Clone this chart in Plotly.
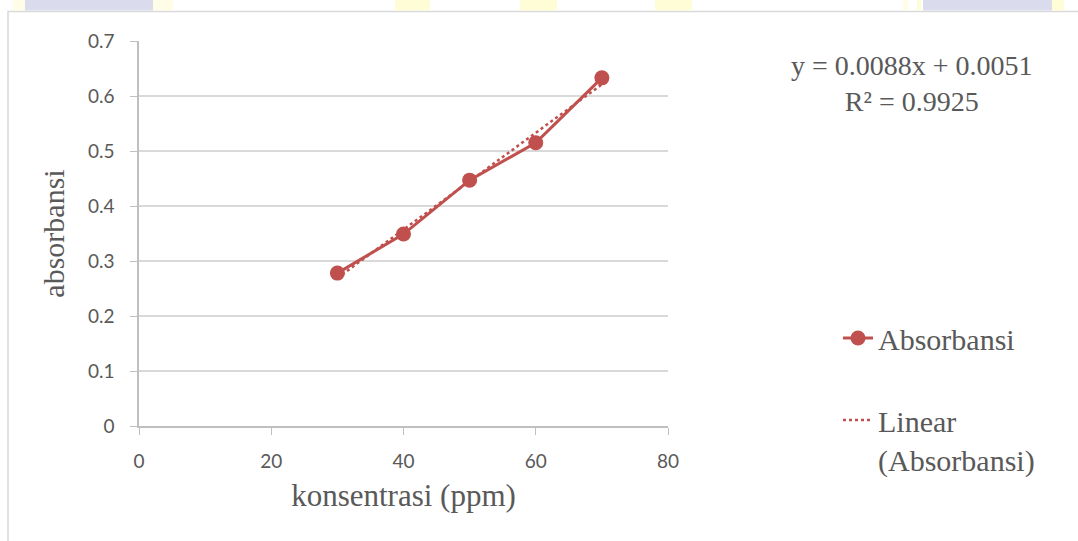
import plotly.graph_objects as go

# ---- data ----
konsentrasi = [30, 40, 50, 60, 70]
absorbansi = [0.278, 0.349, 0.447, 0.515, 0.633]
trend_slope = 0.0088
trend_intercept = 0.0051
trend_x = [30, 70]
eq_text = "y = 0.0088x + 0.0051<br>R² = 0.9925"
x_ticks = [0, 20, 40, 60, 80]
y_ticks = [0, 0.1, 0.2, 0.3, 0.4, 0.5, 0.6, 0.7]
y_tick_text = ["0", "0.1", "0.2", "0.3", "0.4", "0.5", "0.6", "0.7"]

RED = "#C0504D"
TXT = "#595959"
SERIF = "Liberation Serif, Times New Roman, serif"
W, H = 1078, 541
L, R, T, B = 139, 410, 41, 115
PW, PH = W - L - R, H - T - B


def px(x):
    return (x - L) / PW


def py(y):
    return (H - B - y) / PH


fig = go.Figure()
fig.add_trace(go.Scatter(
    x=konsentrasi, y=absorbansi, mode="lines+markers", name="Absorbansi",
    line=dict(color=RED, width=3), marker=dict(color=RED, size=15),
    legendgroup="a"))
fig.add_trace(go.Scatter(
    x=trend_x, y=[trend_slope * v + trend_intercept for v in trend_x],
    mode="lines", name="Linear<br>(Absorbansi)",
    line=dict(color=RED, width=2.5, dash="dot"), legendgroup="b"))

shapes = [dict(type="rect", xref="paper", yref="paper",
               x0=px(8), x1=px(1200), y0=py(700), y1=py(11.5),
               line=dict(color="#D9D9D9", width=1.5), layer="below")]
# decorative page-background strips above the chart frame
for x0, x1, col in [(13, 25, "#FFFDE6"), (25, 153, "#DADCEE"), (153, 173, "#FFFDE6"),
                    (395, 430, "#FFFDD6"), (520, 557, "#FFFDD6"), (655, 692, "#FFFDD6"),
                    (903, 908, "#FFFDE6"), (917, 921, "#FFFDD6"), (923, 1052, "#DADCEE"),
                    (1052, 1064, "#FFFDD6")]:
    shapes.append(dict(type="rect", xref="paper", yref="paper",
                       x0=px(x0), x1=px(x1), y0=py(10.5), y1=py(-5),
                       line=dict(width=0), fillcolor=col, layer="below"))

fig.update_layout(
    width=W, height=H,
    margin=dict(l=L, r=R, t=T, b=B, autoexpand=False),
    paper_bgcolor="white", plot_bgcolor="white",
    shapes=shapes,
    showlegend=True,
    legend=dict(x=px(838), y=py(312), xanchor="left", yanchor="top",
                font=dict(family=SERIF, size=30, color=TXT),
                valign="top", tracegroupgap=40, itemwidth=30, bgcolor="rgba(0,0,0,0)"),
    annotations=[dict(text=eq_text, xref="paper", yref="paper",
                      x=px(912), y=py(83), xanchor="center", yanchor="middle",
                      showarrow=False, align="center",
                      font=dict(family=SERIF, size=28, color=TXT))],
    xaxis=dict(range=[0, 80], tickvals=x_ticks, showgrid=False, zeroline=False,
               showline=True, linecolor="#BFBFBF", linewidth=1.5,
               ticks="outside", ticklen=7, tickcolor="#BFBFBF", ticklabelstandoff=10,
               tickfont=dict(family="Lato, Open Sans, sans-serif", size=19, color=TXT),
               title=dict(text="konsentrasi (ppm)", standoff=14,
                          font=dict(family=SERIF, size=31, color=TXT))),
    yaxis=dict(range=[0, 0.7], tickvals=y_ticks, ticktext=y_tick_text,
               showgrid=True, gridcolor="#D9D9D9", gridwidth=1.5, zeroline=False,
               showline=True, linecolor="#BFBFBF", linewidth=1.5,
               ticks="outside", ticklen=7, tickcolor="#BFBFBF", ticklabelstandoff=12,
               tickfont=dict(family="Lato, Open Sans, sans-serif", size=19, color=TXT),
               title=dict(text="absorbansi", standoff=14,
                          font=dict(family=SERIF, size=30, color=TXT))),
)

fig.write_html("out.html")
